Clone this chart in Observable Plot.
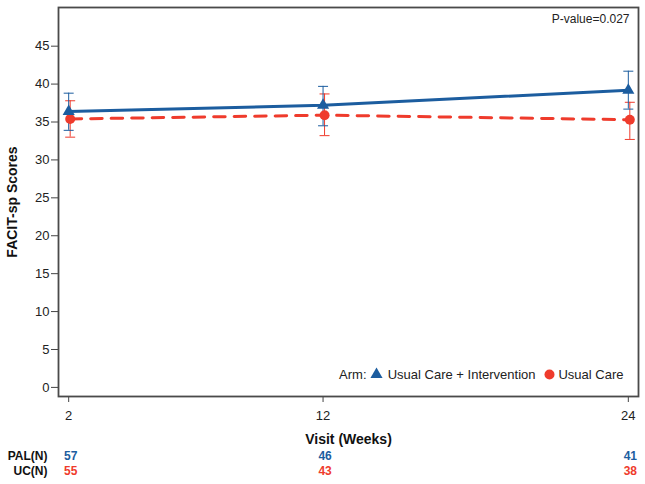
<!DOCTYPE html>
<html><head><meta charset="utf-8">
<script src="https://cdn.jsdelivr.net/npm/d3@7"></script>
<script src="https://cdn.jsdelivr.net/npm/@observablehq/plot@0.6"></script>
<style>
html,body{margin:0;padding:0;background:#fff;}
#chart{width:645px;height:484px;}
</style>
</head><body><div id="chart"></div>
<script>
const weeks = [2, 12, 24];
const palMean = [36.4, 37.2, 39.2];
const palLow = [33.9, 34.5, 36.7];
const palHigh = [38.8, 39.7, 41.7];
const ucMean = [35.4, 35.9, 35.3];
const ucLow = [33.0, 33.2, 32.7];
const ucHigh = [37.8, 38.7, 37.6];
const palN = [57, 46, 41];
const ucN = [55, 43, 38];
const yTicks = [0, 5, 10, 15, 20, 25, 30, 35, 40, 45];
const armLabels = ["Usual Care + Intervention", "Usual Care"];
const pValueText = "P-value=0.027";

const BLUE = "#1c5d9f";
const RED = "#ef3b2c";
const FONT = "'Liberation Sans', Arial, sans-serif";

const rows = weeks.map((w, i) => ({
  week: w, palMean: palMean[i], palLow: palLow[i], palHigh: palHigh[i],
  ucMean: ucMean[i], ucLow: ucLow[i], ucHigh: ucHigh[i], palN: palN[i], ucN: ucN[i]
}));

const cap = { draw(ctx, size) { const r = Math.sqrt(size / Math.PI); ctx.moveTo(-r, 0); ctx.lineTo(r, 0); } };

const plot = Plot.plot({
  width: 645, height: 484,
  marginTop: 7, marginLeft: 58, marginRight: 7, marginBottom: 88,
  style: { fontFamily: FONT, fontSize: "13px", color: "#222", background: "#fff" },
  x: { domain: [1.6, 24.4] },
  y: { domain: [-1.2, 50.1] },
  marks: [
    // error bars
    Plot.ruleX(rows, { x: "week", y1: "ucLow", y2: "ucHigh", stroke: RED, strokeWidth: 1, dx: 1.5 }),
    Plot.dot(rows, { x: "week", y: "ucLow", symbol: cap, r: 5, stroke: RED, strokeWidth: 1, fill: "none", dx: 1.5 }),
    Plot.dot(rows, { x: "week", y: "ucHigh", symbol: cap, r: 5, stroke: RED, strokeWidth: 1, fill: "none", dx: 1.5 }),
    Plot.ruleX(rows, { x: "week", y1: "palLow", y2: "palHigh", stroke: BLUE, strokeWidth: 1 }),
    Plot.dot(rows, { x: "week", y: "palLow", symbol: cap, r: 5, stroke: BLUE, strokeWidth: 1, fill: "none" }),
    Plot.dot(rows, { x: "week", y: "palHigh", symbol: cap, r: 5, stroke: BLUE, strokeWidth: 1, fill: "none" }),
    // lines
    Plot.line(rows, { x: "week", y: "ucMean", stroke: RED, strokeWidth: 3, strokeDasharray: "11.5,9", dx: 1.5 }),
    Plot.line(rows, { x: "week", y: "palMean", stroke: BLUE, strokeWidth: 3 }),
    // markers
    Plot.dot(rows, { x: "week", y: "ucMean", symbol: "circle", r: 5, fill: RED, dx: 1.5 }),
    Plot.dot(rows, { x: "week", y: "palMean", symbol: "triangle", r: 4.5, fill: BLUE }),
    // axes
    Plot.axisY({ ticks: yTicks, tickSize: 7, tickPadding: 2, fontSize: 13, label: null, stroke: "#444" }),
    Plot.axisX({ ticks: weeks, tickSize: 6, tickPadding: 8, fontSize: 13, label: null, stroke: "#444" }),
    Plot.frame({ stroke: "#4a4a4a", strokeWidth: 1.8 }),
    // axis titles
    Plot.text(["FACIT-sp Scores"], { frameAnchor: "left", rotate: -90, dx: -46, textAnchor: "middle", lineAnchor: "middle", fontWeight: "bold", fontSize: 14, fill: "#111" }),
    Plot.text(["Visit (Weeks)"], { frameAnchor: "bottom", dy: 43, textAnchor: "middle", lineAnchor: "middle", fontWeight: "bold", fontSize: 14, fill: "#111" }),
    // p-value
    Plot.text([pValueText], { frameAnchor: "top-right", dx: -9, dy: 12, textAnchor: "end", lineAnchor: "middle", fontSize: 12, fill: "#222" }),
    // legend
    Plot.text(["Arm:"], { frameAnchor: "bottom-right", dx: -272, dy: -22, textAnchor: "end", lineAnchor: "middle", fontSize: 13, fill: "#222" }),
    Plot.dot([0], { frameAnchor: "bottom-right", dx: -262, dy: -22, symbol: "triangle", r: 4.5, fill: BLUE }),
    Plot.text([armLabels[0]], { frameAnchor: "bottom-right", dx: -103, dy: -22, textAnchor: "end", lineAnchor: "middle", fontSize: 13, fill: "#222" }),
    Plot.dot([0], { frameAnchor: "bottom-right", dx: -89, dy: -22, symbol: "circle", r: 5, fill: RED }),
    Plot.text([armLabels[1]], { frameAnchor: "bottom-right", dx: -15, dy: -22, textAnchor: "end", lineAnchor: "middle", fontSize: 13, fill: "#222" }),
    // N table
    Plot.text(["PAL(N)"], { frameAnchor: "bottom-left", dx: -11, dy: 60, textAnchor: "end", lineAnchor: "middle", fontWeight: "bold", fontSize: 12, fill: "#111" }),
    Plot.text(["UC(N)"], { frameAnchor: "bottom-left", dx: -11, dy: 75, textAnchor: "end", lineAnchor: "middle", fontWeight: "bold", fontSize: 12, fill: "#111" }),
    Plot.text(rows, { x: "week", text: "palN", frameAnchor: "bottom", dx: 2, dy: 60, lineAnchor: "middle", fontWeight: "bold", fontSize: 12, fill: BLUE }),
    Plot.text(rows, { x: "week", text: "ucN", frameAnchor: "bottom", dx: 2, dy: 75, lineAnchor: "middle", fontWeight: "bold", fontSize: 12, fill: RED })
  ]
});
document.getElementById("chart").appendChild(plot);
</script>
</body></html>
